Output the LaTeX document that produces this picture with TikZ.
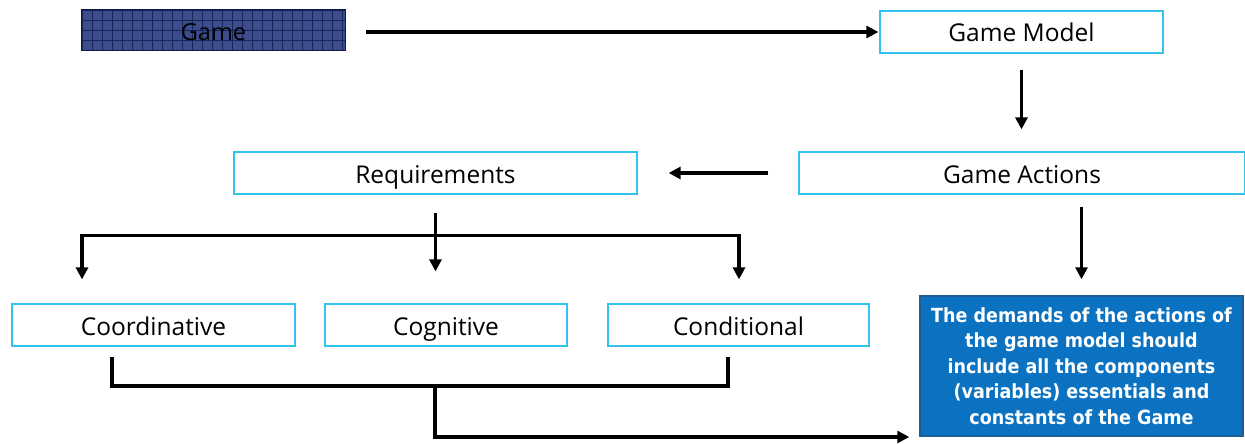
\documentclass[tikz,border=0pt]{standalone}
\usepackage{fontspec}
\setmainfont{Open Sans}
\newfontfamily\boldsans{DejaVu Sans Condensed}
\usetikzlibrary{arrows.meta,calc}
\definecolor{frame}{HTML}{33C3EE}
\definecolor{navyfill}{HTML}{3D4C8A}
\definecolor{navygrid}{HTML}{16245C}
\definecolor{noteblue}{HTML}{0A72C0}
\definecolor{noteedge}{HTML}{1C5E94}
\tikzset{
  box/.style={draw=frame, line width=1.2pt, fill=white, inner sep=0pt,
    minimum height=42pt, text height=21pt, text depth=1pt,
    font=\fontsize{24.5}{28}\selectfont},
  link/.style={line width=3.6pt, -{Triangle[length=12pt,width=12pt]}},
  plain/.style={line width=3.6pt},
}
\begin{document}
\begin{tikzpicture}[x=1pt,y=-1pt]
\useasboundingbox (0,0) rectangle (1245,444);

% top row
\node[inner sep=0pt, minimum width=263pt, minimum height=40pt] (game) at (213.5,30) {};
\begin{scope}
  \clip (game.south west) rectangle (game.north east);
  \fill[navyfill] (game.south west) rectangle (game.north east);
  \draw[navygrid, line width=0.8pt, step=10pt, shift={(82,10)}] (0,0) grid (270,50);
\end{scope}
\draw[navygrid!70!black, line width=1pt] (game.south west) rectangle (game.north east);
\node[font=\fontsize{23.5}{28}\selectfont, text height=21pt, text depth=1pt, inner sep=0pt] at ([yshift=-1pt]game.center) {Game};

\node[box, minimum width=283pt] (gm) at (1021.5,32) {Game Model};

% second row
\node[box, minimum width=446pt] (ga) at (1022,173) {Game Actions};
\node[box, minimum width=403pt] (req) at (435.5,173) {Requirements};

% third row
\node[box, minimum width=283pt] (coo) at (153.5,325) {Coordinative};
\node[box, minimum width=242pt] (cog) at (446,325) {Cognitive};
\node[box, minimum width=261pt] (con) at (738.5,325) {Conditional};

\node[draw=noteedge, line width=1.5pt, fill=noteblue, text=white, inner sep=0pt,
  minimum width=323pt, minimum height=140pt, align=center,
  font=\boldsans\bfseries\fontsize{19.5}{25.5}\selectfont] (note) at (1081.5,366)
  {The demands of the actions of\\the game model should\\include all the components\\(variables) essentials and\\constants of the Game};

% connectors
\draw[link] ([xshift=21pt]game.east |- gm.west) -- ([xshift=-1pt]gm.west);
\draw[link] ([yshift=-16pt]gm.south) -- ([yshift=22pt]gm.south |- ga.north);
\draw[link] ([xshift=-30pt]ga.west) -- ([xshift=31pt]req.east);

\coordinate (split) at ($(req.south)+(0,41)$);
\coordinate (splitL) at (82,0 |- split);
\coordinate (splitR) at (739,0 |- split);
\draw[link] ([yshift=-18pt]req.south) -- ([yshift=32pt]split |- cog.north);
\draw[link] (split) -| ([yshift=24pt]splitL |- coo.north);
\draw[link] (split) -| ([yshift=24pt]splitR |- con.north);

\draw[link] ([yshift=-12pt]ga.south -| note.north) -- ([yshift=16pt]note.north);

\coordinate (joinL) at (112,386);
\coordinate (joinR) at (728,386);
\coordinate (merge) at (435,386);
\coordinate (turn) at (435,437);
\draw[plain] ([yshift=-10pt]joinL |- coo.south) -- (joinL) -- (joinR) -- ([yshift=-10pt]joinR |- con.south);
\draw[link] (merge) -- (turn) -- ([xshift=-10pt]turn -| note.west);
\end{tikzpicture}
\end{document}
